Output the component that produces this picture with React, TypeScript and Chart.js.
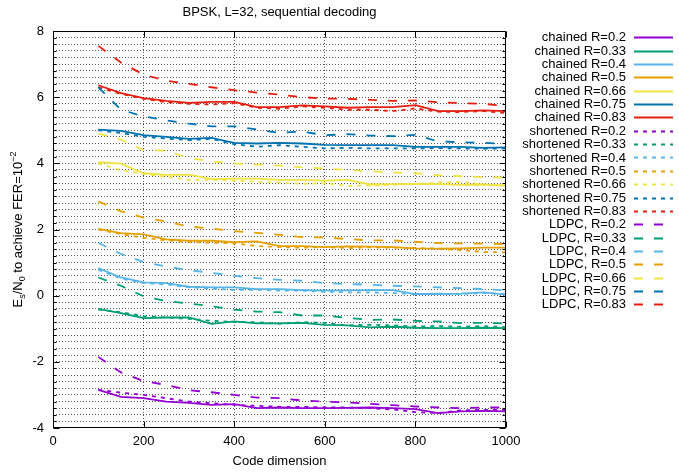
import React, { useEffect, useRef } from 'react';
import { Chart, registerables } from 'chart.js';

Chart.register(...registerables);

// ---- data ----
const codeDims = [100, 150, 200, 250, 300, 350, 400, 450, 500, 550, 600, 650, 700, 750, 800, 850, 900, 950, 1000];
const rates = ['0.2', '0.33', '0.4', '0.5', '0.66', '0.75', '0.83'];
const rateColors = ['#9400d3', '#009e73', '#56b4e9', '#e69f00', '#f0e442', '#0072b2', '#e51e10'];

const chainedR02 = [-2.85, -3.06, -3.1, -3.2, -3.24, -3.3, -3.28, -3.4, -3.38, -3.4, -3.4, -3.39, -3.38, -3.4, -3.43, -3.55, -3.5, -3.48, -3.5];
const chainedR033 = [-0.4, -0.53, -0.68, -0.66, -0.66, -0.85, -0.78, -0.84, -0.84, -0.82, -0.88, -0.9, -0.96, -0.94, -0.97, -0.98, -0.98, -0.97, -0.98];
const chainedR04 = [0.83, 0.55, 0.4, 0.38, 0.27, 0.25, 0.25, 0.2, 0.2, 0.17, 0.15, 0.16, 0.17, 0.17, 0.05, 0.05, 0.06, 0.1, 0.03];
const chainedR05 = [2.02, 1.89, 1.85, 1.7, 1.66, 1.66, 1.62, 1.64, 1.5, 1.5, 1.47, 1.49, 1.48, 1.47, 1.43, 1.42, 1.43, 1.45, 1.45];
const chainedR066 = [4.04, 3.99, 3.7, 3.65, 3.66, 3.52, 3.54, 3.54, 3.5, 3.5, 3.48, 3.5, 3.36, 3.37, 3.38, 3.37, 3.35, 3.36, 3.33];
const chainedR075 = [5.02, 4.98, 4.85, 4.8, 4.74, 4.77, 4.62, 4.6, 4.62, 4.6, 4.56, 4.55, 4.55, 4.55, 4.5, 4.5, 4.5, 4.47, 4.48];
const chainedR083 = [6.36, 6.12, 5.97, 5.89, 5.83, 5.86, 5.86, 5.7, 5.7, 5.75, 5.72, 5.68, 5.7, 5.7, 5.76, 5.58, 5.58, 5.6, 5.58];

const shortenedR02 = [-2.85, -2.93, -3.0, -3.1, -3.2, -3.25, -3.3, -3.33, -3.36, -3.36, -3.38, -3.38, -3.4, -3.44, -3.52, -3.55, -3.47, -3.45, -3.45];
const shortenedR033 = [-0.42, -0.5, -0.62, -0.66, -0.7, -0.76, -0.8, -0.8, -0.85, -0.8, -0.82, -0.9, -0.88, -0.9, -0.93, -0.92, -0.94, -0.92, -0.95];
const shortenedR04 = [0.78, 0.52, 0.38, 0.34, 0.25, 0.22, 0.17, 0.18, 0.15, 0.15, 0.12, 0.1, 0.1, 0.08, 0.05, 0.06, 0.05, 0.08, 0.05];
const shortenedR05 = [2.0, 1.86, 1.75, 1.67, 1.62, 1.6, 1.58, 1.5, 1.47, 1.45, 1.47, 1.44, 1.46, 1.45, 1.44, 1.42, 1.38, 1.32, 1.31];
const shortenedR066 = [4.0, 3.79, 3.68, 3.6, 3.5, 3.5, 3.48, 3.44, 3.42, 3.38, 3.4, 3.32, 3.33, 3.35, 3.38, 3.42, 3.44, 3.36, 3.33];
const shortenedR075 = [5.0, 4.92, 4.8, 4.75, 4.7, 4.74, 4.58, 4.5, 4.55, 4.5, 4.45, 4.47, 4.45, 4.45, 4.45, 4.46, 4.45, 4.44, 4.45];
const shortenedR083 = [6.3, 6.1, 5.95, 5.85, 5.8, 5.78, 5.82, 5.68, 5.65, 5.72, 5.68, 5.62, 5.62, 5.58, 5.66, 5.56, 5.55, 5.58, 5.52];

const ldpcR02 = [-1.85, -2.32, -2.58, -2.7, -2.86, -2.92, -3.0, -3.08, -3.1, -3.17, -3.2, -3.23, -3.27, -3.31, -3.35, -3.38, -3.4, -3.38, -3.38];
const ldpcR033 = [0.55, 0.3, -0.02, -0.16, -0.24, -0.32, -0.42, -0.48, -0.5, -0.6, -0.6, -0.67, -0.73, -0.72, -0.76, -0.78, -0.83, -0.82, -0.84];
const ldpcR04 = [1.6, 1.26, 1.02, 0.88, 0.77, 0.69, 0.6, 0.53, 0.48, 0.45, 0.38, 0.35, 0.33, 0.3, 0.28, 0.25, 0.23, 0.2, 0.16];
const ldpcR05 = [2.85, 2.55, 2.36, 2.24, 2.09, 2.03, 1.95, 1.9, 1.84, 1.77, 1.76, 1.71, 1.67, 1.67, 1.63, 1.59, 1.58, 1.57, 1.56];
const ldpcR066 = [4.9, 4.72, 4.4, 4.38, 4.16, 4.06, 4.0, 3.96, 3.93, 3.88, 3.84, 3.8, 3.76, 3.72, 3.7, 3.64, 3.61, 3.58, 3.57];
const ldpcR075 = [6.3, 5.62, 5.42, 5.3, 5.2, 5.12, 5.12, 5.02, 4.92, 4.96, 4.85, 4.88, 4.84, 4.82, 4.86, 4.66, 4.64, 4.62, 4.59];
const ldpcR083 = [7.55, 7.05, 6.68, 6.5, 6.4, 6.3, 6.21, 6.14, 6.08, 6.0, 5.96, 5.95, 5.92, 5.89, 5.9, 5.85, 5.82, 5.8, 5.73];

const chainedSeries = [chainedR02, chainedR033, chainedR04, chainedR05, chainedR066, chainedR075, chainedR083];
const shortenedSeries = [shortenedR02, shortenedR033, shortenedR04, shortenedR05, shortenedR066, shortenedR075, shortenedR083];
const ldpcSeries = [ldpcR02, ldpcR033, ldpcR04, ldpcR05, ldpcR066, ldpcR075, ldpcR083];

const yTicksMajor = [-4, -2, 0, 2, 4, 6, 8];
const xTicks = [0, 200, 400, 600, 800, 1000];

const titleText = 'BPSK, L=32, sequential decoding';
const xLabelText = 'Code dimension';

const FONT = '"Liberation Sans", Arial, Helvetica, sans-serif';
const DOT_DASH = [4, 5];
const LDPC_DASH = [9, 11];

function buildDatasets() {
  const ds: any[] = [];
  rates.forEach((r, i) => {
    ds.push({
      label: `chained R=${r}`,
      data: codeDims.map((x, k) => ({ x, y: chainedSeries[i][k] })),
      borderColor: rateColors[i],
      borderWidth: 1.8,
      borderDash: [],
      order: 2,
    });
  });
  rates.forEach((r, i) => {
    ds.push({
      label: `shortened R=${r}`,
      data: codeDims.map((x, k) => ({ x, y: shortenedSeries[i][k] })),
      borderColor: rateColors[i],
      borderWidth: 1.8,
      borderDash: DOT_DASH,
      order: 1,
    });
  });
  rates.forEach((r, i) => {
    ds.push({
      label: `LDPC, R=${r}`,
      data: codeDims.map((x, k) => ({ x, y: ldpcSeries[i][k] })),
      borderColor: rateColors[i],
      borderWidth: 1.8,
      borderDash: LDPC_DASH,
      order: 0,
    });
  });
  return ds;
}

const decorPlugin = {
  id: 'decor',
  afterDraw(chart: any) {
    const { ctx, chartArea: a, scales } = chart;
    const L = Math.round(a.left) + 0.5;
    const R = Math.round(a.right) - 0.5;
    const T = Math.round(a.top) + 0.5;
    const B = Math.round(a.bottom) - 0.5;
    ctx.save();
    ctx.setLineDash([]);
    ctx.strokeStyle = '#000';
    ctx.lineWidth = 1;
    const line = (x1: number, y1: number, x2: number, y2: number) => {
      ctx.beginPath();
      ctx.moveTo(x1, y1);
      ctx.lineTo(x2, y2);
      ctx.stroke();
    };
    // frame
    ctx.strokeRect(L, T, R - L, B - T);
    // y ticks
    for (let k = -20; k <= 40; k++) {
      const v = k * 0.2;
      const py = Math.round(scales.y.getPixelForValue(v)) + 0.5;
      const len = k % 10 === 0 ? 6 : 3;
      line(L, py, L + len, py);
      line(R, py, R - len, py);
    }
    xTicks.forEach((v) => {
      const px = Math.round(scales.x.getPixelForValue(v)) + 0.5;
      line(px, B, px, B - 6);
      line(px, T, px, T + 6);
    });

    ctx.fillStyle = '#000';
    ctx.font = `13px ${FONT}`;
    ctx.textBaseline = 'middle';
    ctx.textAlign = 'center';
    const cx = (a.left + a.right) / 2;
    ctx.fillText(titleText, cx, 12);
    ctx.fillText(xLabelText, cx, 461);

    // y label with sub/superscripts
    const parts: [string, number, number][] = [
      ['E', 13, 0],
      ['s', 9, 3],
      ['/N', 13, 0],
      ['0', 9, 3],
      [' to achieve FER=10', 13, 0],
      ['\u22122', 9, -6],
    ];
    ctx.save();
    ctx.translate(22, (a.top + a.bottom) / 2);
    ctx.rotate(-Math.PI / 2);
    ctx.textAlign = 'left';
    ctx.textBaseline = 'alphabetic';
    let total = 0;
    parts.forEach(([t, s]) => {
      ctx.font = `${s}px ${FONT}`;
      total += ctx.measureText(t).width;
    });
    let xx = -total / 2;
    parts.forEach(([t, s, dy]) => {
      ctx.font = `${s}px ${FONT}`;
      ctx.fillText(t, xx, dy);
      xx += ctx.measureText(t).width;
    });
    ctx.restore();

    // legend
    ctx.font = `13px ${FONT}`;
    ctx.textAlign = 'right';
    ctx.textBaseline = 'middle';
    chart.data.datasets.forEach((d: any, i: number) => {
      const y = 37.3 + i * 13.35;
      ctx.fillStyle = '#000';
      ctx.fillText(d.label, 626, y + 0.5);
      ctx.strokeStyle = d.borderColor;
      ctx.lineWidth = 2;
      ctx.setLineDash(d.borderDash || []);
      const yy = Math.round(y) + 0.5;
      line(634, yy, 673, yy);
    });
    ctx.restore();
  },
};

export default function App() {
  const ref = useRef<HTMLCanvasElement | null>(null);
  useEffect(() => {
    if (!ref.current) return;
    const chart = new Chart(ref.current, {
      type: 'line',
      data: { datasets: buildDatasets() },
      options: {
        animation: false,
        responsive: false,
        maintainAspectRatio: false,
        layout: { padding: { left: 0, top: 31, right: 173, bottom: 0 } },
        elements: { point: { radius: 0 }, line: { tension: 0 } },
        plugins: { legend: { display: false }, tooltip: { enabled: false }, title: { display: false } },
        scales: {
          x: {
            type: 'linear',
            min: 0,
            max: 1000,
            afterFit: (s: any) => { s.height = 45; },
            afterBuildTicks: (s: any) => { s.ticks = xTicks.map((v) => ({ value: v })); },
            ticks: {
              color: '#000',
              font: { family: FONT, size: 13 },
              padding: 6,
              autoSkip: false,
              maxRotation: 0,
              callback: (v: any) => String(Math.round(Number(v))),
            },
            grid: {
              drawTicks: false,
              lineWidth: 1,
              color: (c: any) => (c.tick && (c.tick.value === 0 || c.tick.value === 1000) ? 'rgba(0,0,0,0)' : 'rgba(0,0,0,0.65)'),
            },
            border: { display: false, dash: [1, 2] },
          },
          y: {
            type: 'linear',
            min: -4,
            max: 8,
            afterFit: (s: any) => { s.width = 53; },
            ticks: {
              stepSize: 0.2,
              autoSkip: false,
              color: '#000',
              font: { family: FONT, size: 13 },
              padding: 9,
              callback: (v: any) => {
                const n = Number(v);
                const m = yTicksMajor.find((t) => Math.abs(t - n) < 1e-6);
                return m === undefined ? '' : String(m);
              },
            },
            grid: {
              drawTicks: false,
              lineWidth: 1,
              color: (c: any) => {
                const v = c.tick ? c.tick.value : 0;
                if (Math.abs(v - 8) < 1e-6 || Math.abs(v + 4) < 1e-6) return 'rgba(0,0,0,0)';
                return 'rgba(0,0,0,0.65)';
              },
            },
            border: { display: false, dash: [1, 2] },
          },
        },
      } as any,
      plugins: [decorPlugin],
    });
    return () => chart.destroy();
  }, []);
  return (
    <div style={{ position: 'fixed', left: 0, top: 0, width: 679, height: 473, background: '#fff' }}>
      <canvas ref={ref} width={679} height={473} style={{ display: 'block' }} />
    </div>
  );
}
